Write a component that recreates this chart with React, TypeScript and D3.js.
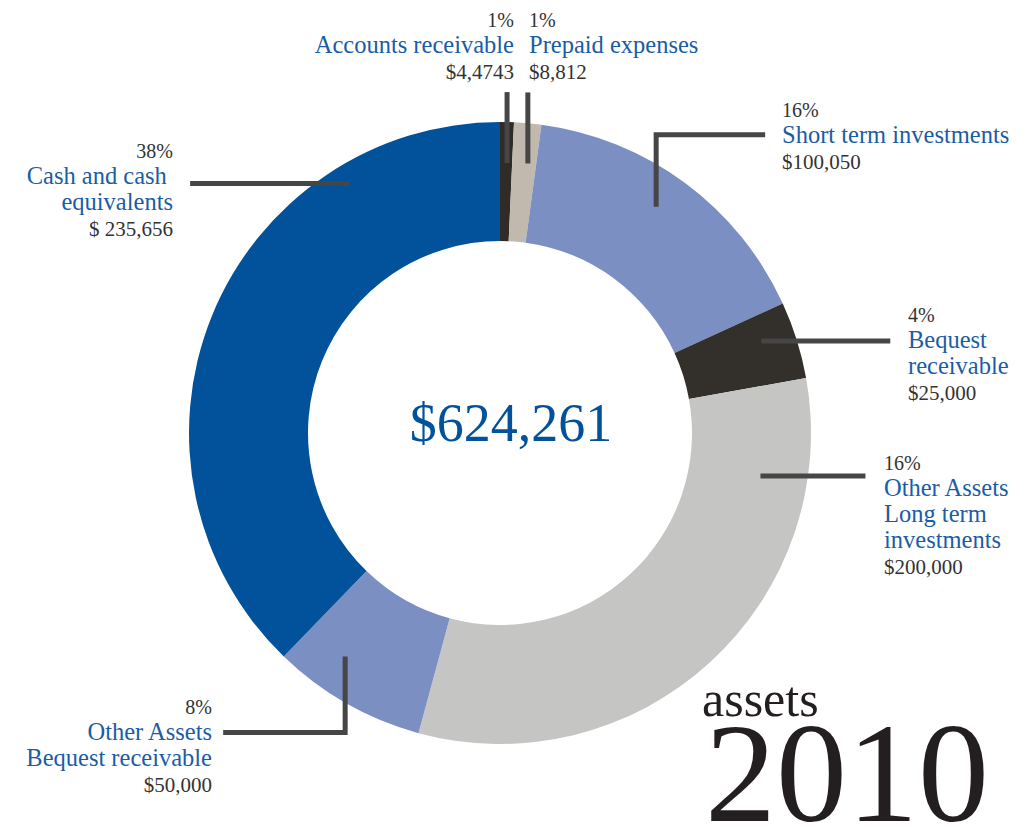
import React from 'react'
import * as d3 from 'd3'

// slice data, clockwise from 12 o'clock
const names = [
  'Accounts receivable',
  'Prepaid expenses',
  'Short term investments',
  'Bequest receivable',
  'Other Assets Long term investments',
  'Other Assets Bequest receivable',
  'Cash and cash equivalents',
]
const amounts = [4474.3, 8812, 100050, 25000, 200000, 50000, 235656]
const percents = ['1%', '1%', '16%', '4%', '16%', '8%', '38%']
const amountLabels = ['$4,4743', '$8,812', '$100,050', '$25,000', '$200,000', '$50,000', '$ 235,656']
const labelLines = [
  ['Accounts receivable'],
  ['Prepaid expenses'],
  ['Short term investments'],
  ['Bequest', 'receivable'],
  ['Other Assets', 'Long term', 'investments'],
  ['Other Assets', 'Bequest receivable'],
  ['Cash and cash ', 'equivalents'],
]
const totalLabel = '$624,261'

const colors = ['#2f2b27', '#c1b9ad', '#7b8fc3', '#332f2b', '#c5c5c4', '#7b8fc3', '#02529b']

const W = 1033
const H = 834
const cx = 500
const cy = 433
const outerR = 311
const innerR = 192

// leader lines: start in polar coords on the ring, then relative segments
const leaders = [
  { angle: 1.5, r: 270, segs: [[0, -71]] },
  { angle: 5.9, r: 271, segs: [[0, -71]] },
  { angle: 34.6, r: 275, segs: [[0, -72], [109, 0]] },
  { angle: 70.6, r: 277, segs: [[129, 0]] },
  { angle: 99.4, r: 264, segs: [[105, 0]] },
  { angle: 214.7, r: 272, segs: [[0, 76], [-122, 0]] },
  { angle: 329.0, r: 291, segs: [[-160, 0]] },
]

// text block placement
const textPos = [
  { x: 514, y: 27, anchor: 'end' },
  { x: 529, y: 27, anchor: 'start' },
  { x: 782, y: 117, anchor: 'start' },
  { x: 908, y: 322, anchor: 'start' },
  { x: 884, y: 470, anchor: 'start' },
  { x: 212, y: 714, anchor: 'end' },
  { x: 173, y: 158, anchor: 'end' },
]

const serif = '"Liberation Serif", "DejaVu Serif", serif'
const blue = '#1a5ca6'
const dark = '#333'
const lineH = 26

export default function App() {
  const pie = d3.pie<number>().sort(null).value(d => d)
  const arcs = pie(amounts)
  const arc = d3.arc<d3.PieArcDatum<number>>().innerRadius(innerR).outerRadius(outerR)

  const leaderPath = (l: { angle: number; r: number; segs: number[][] }) => {
    const a = (l.angle * Math.PI) / 180
    let x = cx + l.r * Math.sin(a)
    let y = cy - l.r * Math.cos(a)
    const path = d3.path()
    path.moveTo(x, y)
    l.segs.forEach(([dx, dy]) => {
      x += dx
      y += dy
      path.lineTo(x, y)
    })
    return path.toString()
  }

  return (
    <svg width={W} height={H} style={{ display: 'block', position: 'absolute', left: 0, top: 0 }}>
      <rect width={W} height={H} fill="#fff" />
      <g transform={`translate(${cx},${cy})`}>
        {arcs.map((d, i) => (
          <path key={names[i]} d={arc(d) || ''} fill={colors[i]} />
        ))}
      </g>
      {leaders.map((l, i) => (
        <path key={'l' + i} d={leaderPath(l)} fill="none" stroke="#464646" strokeWidth={5} strokeLinejoin="miter" />
      ))}
      {textPos.map((p, i) => {
        const lines = labelLines[i]
        return (
          <g key={'t' + i} fontFamily={serif} textAnchor={p.anchor}>
            <text x={p.x} y={p.y} fontSize={20} fill={dark}>{percents[i]}</text>
            {lines.map((s, j) => (
              <text key={j} x={p.x} y={p.y + lineH * (j + 1)} fontSize={24.5} fill={blue} style={{ whiteSpace: 'pre' }}>{s}</text>
            ))}
            <text x={p.x} y={p.y + lineH * (lines.length + 1)} fontSize={21} fill={dark}>{amountLabels[i]}</text>
          </g>
        )
      })}
      <text x={cx + 11} y={441} textAnchor="middle" fontFamily={serif} fontSize={54} fill="#02529b">{totalLabel}</text>
      <text x={702} y={716} fontFamily={serif} fontSize={50} fill="#231f20">assets</text>
      <text x={705} y={821} fontFamily={serif} fontSize={142} fill="#231f20">2010</text>
    </svg>
  )
}
